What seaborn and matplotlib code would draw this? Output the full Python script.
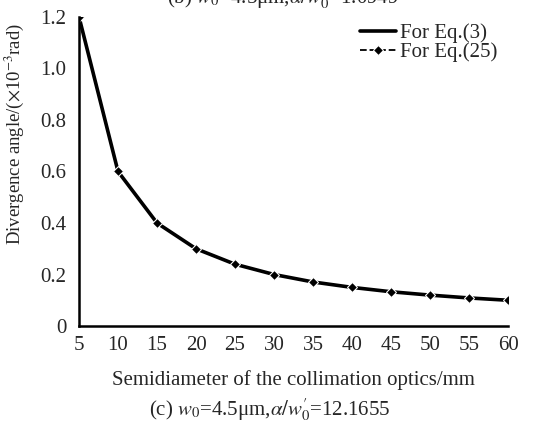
import pandas as pd
import matplotlib.pyplot as plt
import seaborn as sns

# semidiameter of collimation optics (mm) and divergence angle (x1e-3 rad)
semidiameter = [5, 10, 15, 20, 25, 30, 35, 40, 45, 50, 55, 60]
angle_eq3 = [1.2, 0.6, 0.4, 0.3, 0.24, 0.2, 0.171, 0.15, 0.133, 0.12, 0.109, 0.1]
angle_eq25 = [1.2, 0.6, 0.4, 0.3, 0.24, 0.2, 0.171, 0.15, 0.133, 0.12, 0.109, 0.1]
x_ticks = [5, 10, 15, 20, 25, 30, 35, 40, 45, 50, 55, 60]
y_ticks = [0, 0.2, 0.4, 0.6, 0.8, 1.0, 1.2]
y_tick_labels = ["0", "0.2", "0.4", "0.6", "0.8", "1.0", "1.2"]

sns.set_style("white")
plt.rcParams["font.family"] = ["Liberation Serif", "DejaVu Serif"]
plt.rcParams["mathtext.fontset"] = "stix"

df = pd.DataFrame({"x": semidiameter, "eq3": angle_eq3, "eq25": angle_eq25})

fig = plt.figure(figsize=(5.39, 4.24), dpi=100)
ax = fig.add_axes([0.1466, 0.2311, 0.7959, 0.7289])

sns.lineplot(data=df, x="x", y="eq3", ax=ax, color="black", linewidth=2.6,
             label="For Eq.(3)")
sns.lineplot(data=df, x="x", y="eq25", ax=ax, color="black", linewidth=1.3,
             linestyle="--", marker="D", markersize=5, label="For Eq.(25)")

ax.set_xlim(5, 60)
ax.set_ylim(0, 1.2)
ax.set_xticks(x_ticks)
ax.set_yticks(y_ticks)
ax.set_yticklabels(y_tick_labels)
ax.tick_params(direction="in", length=5, width=1.2, labelsize=15, color="black")
ax.tick_params(axis="x", pad=7)
ax.tick_params(axis="y", pad=9)
for side in ["top", "right"]:
    ax.spines[side].set_visible(False)
for side in ["left", "bottom"]:
    ax.spines[side].set_color("black")
    ax.spines[side].set_linewidth(1.8)

ax.set_xlabel("Semidiameter of the collimation optics/mm", fontsize=15)
ax.xaxis.set_label_coords(0.5, -0.142)
ax.set_ylabel(r"Divergence angle/($\times$10$^{-3}$rad)", fontsize=13.5)
ax.yaxis.set_label_coords(-0.124, 0.62)

ax.legend(loc="upper left", bbox_to_anchor=(0.655, 0.978), frameon=False,
          fontsize=15, handlelength=1.75, handletextpad=0.15,
          labelspacing=-0.05, borderaxespad=0, borderpad=0)

fig.text(0.5, 0.034, r"(c) $w_0$=4.5μm,$\alpha/w_0^{\prime}$=12.1655",
         ha="center", va="center", fontsize=15)
fig.text(0.525, 1.006, r"(b) $w_0$=4.5μm,$\alpha/w_0^{\prime}$=1.0949",
         ha="center", va="center", fontsize=15)

fig.savefig("out.png", dpi=100)
